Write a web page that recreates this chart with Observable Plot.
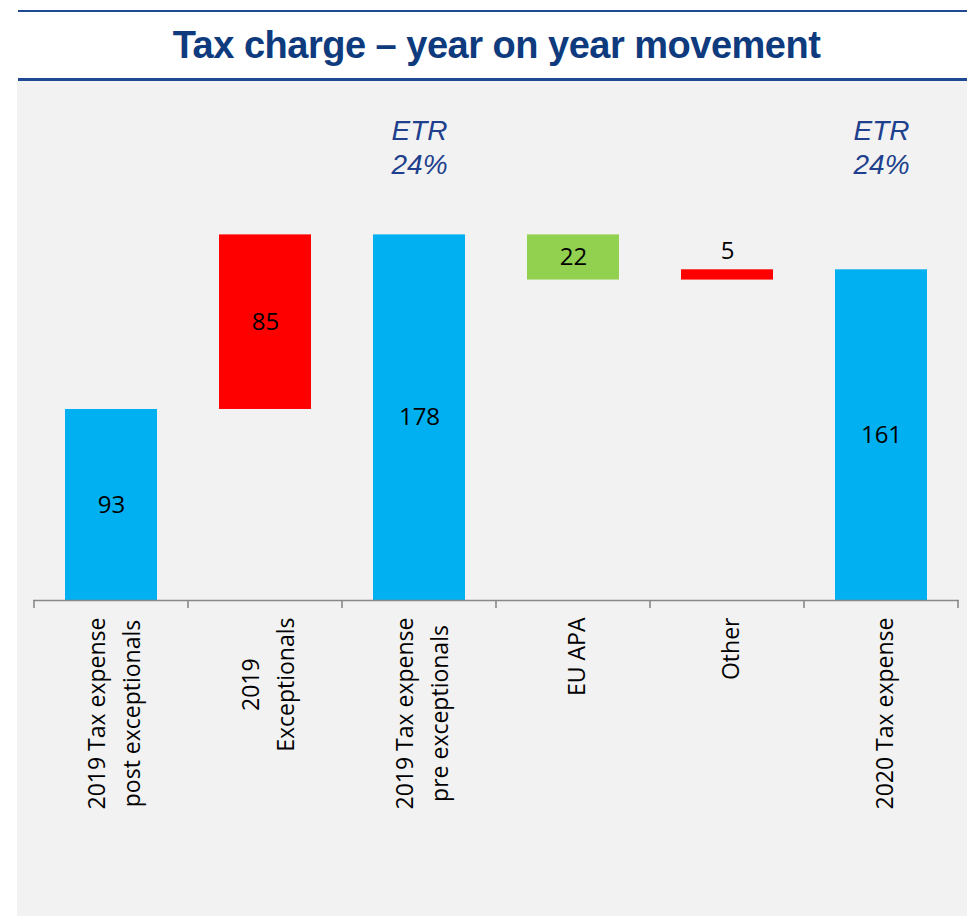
<!DOCTYPE html>
<html>
<head>
<meta charset="utf-8">
<script src="https://cdn.jsdelivr.net/npm/d3@7"></script>
<script src="https://cdn.jsdelivr.net/npm/@observablehq/plot@0.6"></script>
<style>
  html, body { margin: 0; padding: 0; background: #ffffff; }
  body { width: 967px; height: 916px; position: relative; overflow: hidden; font-family: "Open Sans", sans-serif; }
  #rule-top { position: absolute; left: 18px; right: 0; top: 10px; height: 2px; background: #1F4A93; }
  #rule-bottom { position: absolute; left: 18px; right: 0; top: 78px; height: 2.5px; background: #1F4A93; }
  #title { position: absolute; left: 26px; right: 0; top: 24px; line-height: 44px; text-align: center;
           font: bold 38px "Liberation Sans", Arial, sans-serif; letter-spacing: -0.5px; color: #0E3A7E; white-space: nowrap; }
  #panel { position: absolute; left: 17px; top: 81px; right: 0; bottom: 0; background: #F2F2F2; }
  #chart { position: absolute; left: 0; top: 0; }
</style>
</head>
<body>
<div id="rule-top"></div>
<div id="title">Tax charge – year on year movement</div>
<div id="rule-bottom"></div>
<div id="panel"></div>
<div id="chart"></div>
<script>
// ---- data ----
const categories = [
  "2019 Tax expense\npost exceptionals",
  "2019\nExceptionals",
  "2019 Tax expense\npre exceptionals",
  "EU APA",
  "Other",
  "2020 Tax expense"
];
const values = [93, 85, 178, -22, 5, 161];
const kinds = ["total", "increase", "total", "decrease", "increase", "total"];
const valueLabels = ["93", "85", "178", "22", "5", "161"];
const etrLabels = [null, null, "ETR\n24%", null, null, "ETR\n24%"];
const kindNames = ["total", "increase", "decrease"];
const kindColors = ["#00B0F0", "#FF0000", "#92D050"];
const yDomain = [0, 200];

// ---- waterfall table ----
let cum = 0;
const rows = categories.map((cat, i) => {
  let y1, y2;
  if (kinds[i] === "total") { y1 = 0; y2 = values[i]; cum = values[i]; }
  else { y1 = cum; y2 = cum + values[i]; cum = y2; }
  return {
    cat, kind: kinds[i], y1, y2,
    hi: Math.max(y1, y2), mid: (y1 + y2) / 2,
    label: valueLabels[i], etr: etrLabels[i],
    small: Math.abs(values[i]) < 10
  };
});

// tick marks at band boundaries
function bandTicks(index, scales) {
  const x = scales.x, y = scales.y;
  const bw = x.bandwidth();
  const step = x.step ? x.step() : bw / 0.6;
  const gap = (step - bw) / 2;
  const edges = categories.map(c => x(c) - gap)
    .concat([x(categories[categories.length - 1]) + bw + gap]);
  const y0 = y(0);
  const g = d3.create("svg:g").attr("stroke", "#898989").attr("stroke-width", 1.6);
  g.selectAll("line").data(edges).join("line")
    .attr("x1", d => d).attr("x2", d => d)
    .attr("y1", y0).attr("y2", y0 + 8);
  return g.node();
}

const plot = Plot.plot({
  width: 967,
  height: 916,
  marginTop: 189.2,
  marginBottom: 316,
  marginLeft: 33,
  marginRight: 8,
  style: { background: "transparent", fontFamily: "'Open Sans', sans-serif", overflow: "visible", color: "#000" },
  x: { domain: categories, paddingInner: 0.4, paddingOuter: 0.2, align: 0.5, label: null, axis: null },
  y: { domain: yDomain, axis: null },
  color: { domain: kindNames, range: kindColors },
  marks: [
    Plot.barY(rows, { x: "cat", y1: "y1", y2: "y2", fill: "kind" }),
    Plot.ruleY([0], { stroke: "#898989", strokeWidth: 1.6 }),
    bandTicks,
    Plot.axisX({ tickSize: 0, tickPadding: 17, tickRotate: -90, fontSize: 23, lineHeight: 1.5, label: null }),
    Plot.text(rows.filter(d => !d.small), { x: "cat", y: "mid", text: "label", fontSize: 24, fill: "#000" }),
    Plot.text(rows.filter(d => d.small), { x: "cat", y: "hi", text: "label", dy: -18, fontSize: 24, fill: "#000" }),
    Plot.text(rows.filter(d => d.etr), {
      x: "cat", frameAnchor: "top", lineAnchor: "middle", text: "etr", dy: -44,
      fontSize: 28, fontStyle: "italic", fontFamily: "'Liberation Sans', Arial, sans-serif",
      lineHeight: 1.22, fill: "#203F8C"
    })
  ]
});

document.getElementById("chart").append(plot);

// centre the lines of each multi-line axis label within its block, block top-aligned
plot.querySelectorAll('g[aria-label^="x-axis tick label"] text').forEach(t => {
  const spans = t.querySelectorAll("tspan");
  if (spans.length < 2) return;
  const M = Math.max(...Array.from(spans, s => s.getComputedTextLength()));
  t.setAttribute("text-anchor", "middle");
  spans.forEach(s => s.setAttribute("x", -M / 2));
});
</script>
</body>
</html>
